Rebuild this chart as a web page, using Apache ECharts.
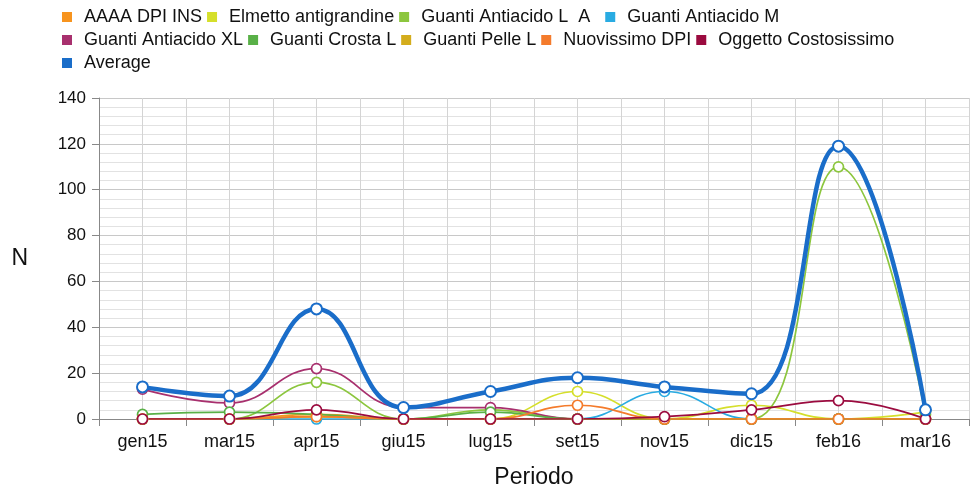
<!DOCTYPE html>
<html><head><meta charset="utf-8">
<script src="https://cdn.jsdelivr.net/npm/echarts@6/dist/echarts.min.js"></script>
<style>html,body{margin:0;padding:0;background:#fff}#c{width:972px;height:487px}</style>
</head><body><div id="c"></div>
<script>
var categories = ['gen15','mar15','apr15','giu15','lug15','set15','nov15','dic15','feb16','mar16'];
var yTicks = [0,20,40,60,80,100,120,140];
var aaaaDpiIns        = [0,0,2,0,0,0,0,0,0,0];
var elmetto           = [0,0,1,0,0,12,0,6,0,3];
var guantiLA          = [0,0,16,0,4,0,0,0,110,2];
var guantiM           = [0,0,0,0,0,0,12,0,0,0];
var guantiXL          = [13,7,22,5,5,0,0,0,0,0];
var guantiCrosta      = [2,3,2,0,3,0,0,0,0,0];
var guantiPelle       = [0,0,1,0,0,0,0,0,0,0];
var nuovissimo        = [0,0,1,0,0,6,0,0,0,0];
var oggetto           = [0,0,4,0,0,0,1,4,8,0];
var average           = [14,10,48,5,12,18,14,11,119,4];

var seriesDefs = [
  ['AAAA DPI INS', aaaaDpiIns, '#f7941e'],
  ['Elmetto antigrandine', elmetto, '#d5df2b'],
  ['Guanti Antiacido L  A  ', guantiLA, '#8cc63e'],
  ['Guanti Antiacido M', guantiM, '#29abe2'],
  ['Guanti Antiacido XL', guantiXL, '#a8306e'],
  ['Guanti Crosta L', guantiCrosta, '#59b047'],
  ['Guanti Pelle L', guantiPelle, '#d4ad1c'],
  ['Nuovissimo DPI', nuovissimo, '#f47b2c'],
  ['Oggetto Costosissimo', oggetto, '#9b0b3f'],
  ['Average', average, '#1a6dc9']
];
var FONT = 'Liberation Sans';
var series = seriesDefs.map(function(d){
  var isAvg = d[0] === 'Average';
  return {
    name: d[0], type: 'line', data: d[1], smooth: 0.45,
    xAxisIndex: 0, yAxisIndex: 0,
    symbol: 'circle', symbolSize: isAvg ? 11 : 10,
    lineStyle: {color: d[2], width: isAvg ? 4.5 : 1.7},
    itemStyle: {color: '#fff', borderColor: d[2], borderWidth: isAvg ? 2 : 1.7},
    z: isAvg ? 5 : 3
  };
});
var chart = echarts.init(document.getElementById('c'));
chart.setOption({
  animation: false,
  color: seriesDefs.map(function(d){return d[2];}),
  legend: {
    left: 62, top: 8, width: 900, padding: 0, itemWidth: 10, itemHeight: 10, itemGap: 5,
    icon: 'rect', itemStyle: {borderWidth: 0},
    data: seriesDefs.map(function(d){return {name: d[0], itemStyle: {color: d[2]}};}),
    textStyle: {fontFamily: FONT, fontSize: 18, color: '#111', padding: [0,6,0,7]}
  },
  grid: {left: 99, right: 3, top: 98, bottom: 68, containLabel: false, outerBoundsMode: 'none'},
  xAxis: [{
    type: 'category', data: categories, boundaryGap: true,
    name: 'Periodo', nameLocation: 'middle', nameGap: 47,
    nameTextStyle: {fontFamily: FONT, fontSize: 23, color: '#111'},
    axisLine: {lineStyle: {color: '#888', width: 1}},
    axisTick: {show: true, length: 7, lineStyle: {color: '#888'}},
    axisLabel: {fontFamily: FONT, fontSize: 18, color: '#111', margin: 14},
    splitLine: {show: false}
  },{
    type: 'value', min: 0, max: 10, interval: 0.5, show: true,
    axisLine: {show: false}, axisTick: {show: false}, axisLabel: {show: false},
    splitLine: {show: true, lineStyle: {color: '#d4d4d4', width: 1}}
  }],
  yAxis: {
    type: 'value', min: 0, max: 140, interval: 20,
    name: 'N', nameLocation: 'middle', nameGap: 71, nameRotate: 0,
    nameTextStyle: {fontFamily: FONT, fontSize: 23, color: '#111'},
    axisLine: {show: true, lineStyle: {color: '#888'}},
    axisTick: {show: true, length: 7, lineStyle: {color: '#888'}},
    axisLabel: {fontFamily: FONT, fontSize: 17, color: '#111', margin: 13,
      formatter: function(v){ return yTicks.indexOf(v) >= 0 ? String(v) : ''; }},
    splitLine: {show: true, lineStyle: {color: '#c8c8c8', width: 1}},
    minorTick: {show: false, splitNumber: 5},
    minorSplitLine: {show: true, lineStyle: {color: '#e2e2e2', width: 1}}
  },
  series: series
});
</script></body></html>
